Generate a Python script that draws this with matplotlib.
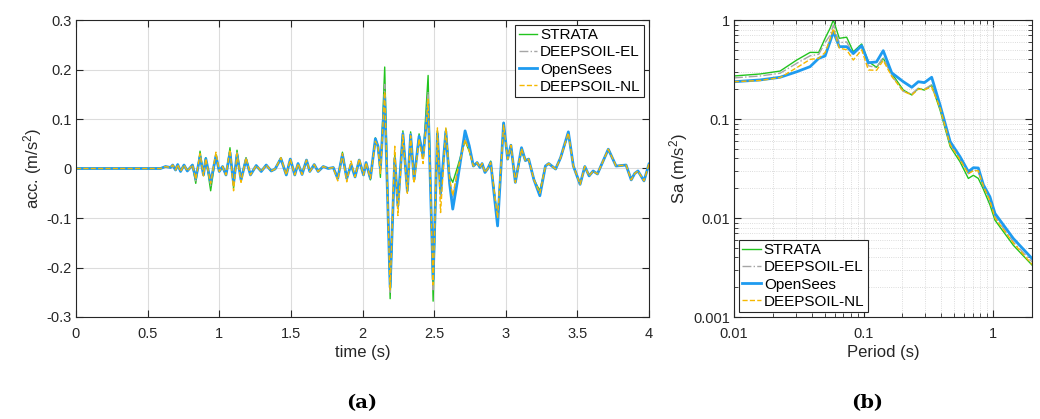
import numpy as np
import matplotlib
matplotlib.use("Agg")
import matplotlib.pyplot as plt
from matplotlib.ticker import FixedLocator, LogLocator, NullFormatter

plt.rcParams['font.family'] = ['Liberation Sans', 'DejaVu Sans']
plt.rcParams['mathtext.default'] = 'regular'

# --- (a) acceleration time histories ---
t = [0.0, 0.59, 0.625, 0.66, 0.675, 0.695, 0.71, 0.73, 0.754, 0.777, 0.813,
     0.836, 0.866, 0.89, 0.906, 0.94, 0.977, 1.0, 1.023, 1.047, 1.075, 1.1,
     1.124, 1.152, 1.187, 1.218, 1.258, 1.293, 1.328, 1.363, 1.39, 1.43,
     1.468, 1.496, 1.527, 1.55, 1.578, 1.609, 1.632, 1.663, 1.69, 1.726,
     1.761, 1.796, 1.827, 1.86, 1.89, 1.92, 1.948, 1.977, 2.007, 2.025,
     2.055, 2.09, 2.108, 2.125, 2.155, 2.193, 2.225, 2.247, 2.282, 2.313,
     2.336, 2.36, 2.395, 2.423, 2.458, 2.493, 2.523, 2.545, 2.582, 2.608,
     2.63, 2.66, 2.716, 2.745, 2.774, 2.8, 2.82, 2.835, 2.855, 2.875, 2.895,
     2.943, 2.985, 3.013, 3.036, 3.067, 3.11, 3.137, 3.16, 3.196, 3.238,
     3.277, 3.3, 3.348, 3.383, 3.437, 3.472, 3.519, 3.552, 3.582, 3.61,
     3.64, 3.716, 3.77, 3.84, 3.876, 3.9, 3.923, 3.965, 4.0]

acc_strata = [0, 0, 0.004, 0.002, 0.007, -0.003, 0.008, -0.006, 0.007, -0.005, 0.007,
              -0.03, 0.035, -0.013, 0.022, -0.045, 0.028, -0.006, 0.004, -0.013, 0.042, -0.04,
              0.037, -0.023, 0.022, -0.013, 0.006, -0.006, 0.007, -0.005, -0.001, 0.022,
              -0.013, 0.019, -0.013, 0.01, -0.012, 0.017, -0.006, 0.008, -0.006, 0.004,
              0.0, 0.002, -0.02, 0.033, -0.02, 0.008, -0.017, 0.017, -0.013, 0.012,
              -0.023, 0.062, 0.045, -0.018, 0.205, -0.263, 0.03, -0.075, 0.076, -0.045,
              0.074, -0.02, 0.07, 0.02, 0.188, -0.268, 0.076, -0.05, 0.08, -0.015,
              -0.028, 0.0, 0.056, 0.035, 0.005, 0.012, 0.002, 0.01, -0.008, 0.0, 0.015,
              -0.103, 0.093, 0.019, 0.047, -0.028, 0.035, 0.016, 0.019, -0.022, -0.045,
              0.005, 0.01, -0.001, 0.022, 0.07, 0.005, -0.032, 0.004, -0.015, -0.005,
              -0.011, 0.039, 0.005, 0.007, -0.023, -0.01, -0.005, -0.025, 0.009]

acc_el = [0, 0, 0.004, 0.002, 0.007, -0.003, 0.008, -0.006, 0.007, -0.005, 0.007,
          -0.025, 0.028, -0.013, 0.02, -0.035, 0.027, -0.006, 0.004, -0.013, 0.036, -0.035,
          0.032, -0.023, 0.021, -0.013, 0.006, -0.006, 0.007, -0.005, -0.001, 0.021,
          -0.013, 0.019, -0.013, 0.01, -0.012, 0.017, -0.006, 0.008, -0.006, 0.004,
          0.0, 0.002, -0.021, 0.03, -0.022, 0.01, -0.017, 0.018, -0.013, 0.012,
          -0.02, 0.06, 0.045, -0.008, 0.17, -0.25, 0.025, -0.08, 0.072, -0.048,
          0.07, -0.025, 0.068, 0.02, 0.155, -0.245, 0.074, -0.06, 0.078, -0.022,
          -0.06, -0.01, 0.06, 0.038, 0.005, 0.012, 0.002, 0.01, -0.008, 0.0, 0.012,
          -0.108, 0.09, 0.019, 0.047, -0.028, 0.04, 0.016, 0.019, -0.022, -0.052,
          0.005, 0.01, -0.001, 0.022, 0.073, 0.005, -0.032, 0.004, -0.015, -0.005,
          -0.011, 0.039, 0.005, 0.007, -0.023, -0.01, -0.005, -0.025, 0.009]

acc_opensees = [0, 0, 0.004, 0.002, 0.007, -0.003, 0.008, -0.006, 0.007, -0.005, 0.007,
                -0.02, 0.024, -0.013, 0.02, -0.027, 0.025, -0.006, 0.004, -0.013, 0.032, -0.03,
                0.028, -0.023, 0.018, -0.013, 0.006, -0.006, 0.007, -0.005, -0.001, 0.02,
                -0.013, 0.019, -0.013, 0.01, -0.012, 0.017, -0.006, 0.008, -0.006, 0.004,
                0.0, 0.002, -0.02, 0.028, -0.02, 0.008, -0.017, 0.017, -0.013, 0.012,
                -0.02, 0.06, 0.045, 0.0, 0.144, -0.24, 0.02, -0.075, 0.07, -0.045,
                0.068, -0.022, 0.065, 0.025, 0.13, -0.224, 0.07, -0.05, 0.075, -0.03,
                -0.082, -0.03, 0.076, 0.046, 0.005, 0.012, 0.002, 0.01, -0.008, 0.0, 0.012,
                -0.116, 0.092, 0.019, 0.047, -0.028, 0.042, 0.016, 0.019, -0.022, -0.055,
                0.005, 0.01, -0.001, 0.022, 0.074, 0.005, -0.032, 0.004, -0.015, -0.005,
                -0.011, 0.039, 0.005, 0.007, -0.023, -0.01, -0.005, -0.025, 0.009]

acc_nl = [0, 0, 0.004, 0.002, 0.007, -0.003, 0.008, -0.006, 0.007, -0.005, 0.007,
          -0.022, 0.03, -0.015, 0.02, -0.03, 0.033, -0.006, 0.004, -0.013, 0.038, -0.045,
          0.03, -0.028, 0.022, -0.013, 0.006, -0.006, 0.007, -0.005, -0.001, 0.022,
          -0.013, 0.019, -0.013, 0.01, -0.012, 0.017, -0.006, 0.008, -0.006, 0.004,
          0.0, 0.002, -0.025, 0.03, -0.027, 0.015, -0.017, 0.02, -0.013, 0.012,
          -0.02, 0.055, 0.045, -0.01, 0.155, -0.245, 0.045, -0.095, 0.068, -0.05,
          0.066, -0.03, 0.06, 0.01, 0.14, -0.235, 0.082, -0.089, 0.082, -0.02,
          -0.055, -0.01, 0.058, 0.036, 0.005, 0.012, 0.002, 0.01, -0.008, 0.0, 0.012,
          -0.1, 0.088, 0.019, 0.047, -0.028, 0.04, 0.016, 0.019, -0.022, -0.05,
          0.005, 0.01, -0.001, 0.022, 0.072, 0.005, -0.032, 0.004, -0.015, -0.005,
          -0.011, 0.039, 0.005, 0.007, -0.023, -0.01, -0.005, -0.025, 0.009]

# --- (b) response spectra ---
period = [0.01, 0.0159, 0.0227, 0.0305, 0.0387, 0.0451, 0.0505, 0.0552, 0.0585,
          0.065, 0.0741, 0.0834, 0.0968, 0.109, 0.126, 0.142, 0.165, 0.203, 0.236,
          0.265, 0.295, 0.336, 0.39, 0.467, 0.556, 0.645, 0.705, 0.77, 0.843, 0.946,
          1.036, 1.436, 2.0]
sa_strata = [0.272, 0.285, 0.305, 0.394, 0.471, 0.47, 0.653, 0.824, 1.0,
             0.653, 0.67, 0.478, 0.572, 0.38, 0.333, 0.41, 0.289, 0.196, 0.175,
             0.204, 0.196, 0.22, 0.123, 0.0526, 0.037, 0.0251, 0.027, 0.0251, 0.0195, 0.0136,
             0.0095, 0.0053, 0.00335]
sa_el = [0.26, 0.272, 0.29, 0.365, 0.435, 0.45, 0.59, 0.70, 0.89,
         0.59, 0.6, 0.45, 0.55, 0.345, 0.33, 0.42, 0.275, 0.19, 0.18,
         0.205, 0.2, 0.222, 0.128, 0.055, 0.039, 0.028, 0.031, 0.029, 0.021, 0.0148,
         0.0103, 0.0057, 0.0036]
sa_opensees = [0.238, 0.248, 0.264, 0.30, 0.338, 0.41, 0.433, 0.604, 0.762,
               0.538, 0.538, 0.459, 0.55, 0.37, 0.377, 0.49, 0.293, 0.238, 0.209,
               0.238, 0.233, 0.264, 0.138, 0.059, 0.0417, 0.0294, 0.0322, 0.032, 0.0216, 0.0164,
               0.0111, 0.0062, 0.0039]
sa_nl = [0.238, 0.245, 0.262, 0.33, 0.40, 0.41, 0.47, 0.64, 0.82,
         0.52, 0.50, 0.394, 0.50, 0.313, 0.31, 0.39, 0.27, 0.19, 0.175,
         0.2, 0.198, 0.21, 0.13, 0.055, 0.039, 0.028, 0.03, 0.03, 0.021, 0.015,
         0.01, 0.0056, 0.0034]

labels = ["STRATA", "DEEPSOIL-EL", "OpenSees", "DEEPSOIL-NL"]
estilos = [
    dict(color="#22c41e", lw=1.0, ls="-"),
    dict(color="#a6a6a6", lw=1.0, ls="-."),
    dict(color="#1e9bf0", lw=2.0, ls="-"),
    dict(color="#f5b800", lw=1.0, ls="--"),
]
cor_eixo = "#262626"

fig = plt.figure(figsize=(10.4, 4.19), dpi=100)
ax1 = fig.add_axes([76/1040, 102/419, 573/1040, 297/419])
ax2 = fig.add_axes([734/1040, 102/419, 298/1040, 297/419])

def estilo_matlab(ax):
    for s in ax.spines.values():
        s.set_color(cor_eixo)
        s.set_linewidth(0.8)
    ax.tick_params(which="both", direction="in", top=True, right=True,
                   colors=cor_eixo, labelsize=10.5)
    ax.tick_params(axis="x", which="both", pad=7)
    ax.tick_params(axis="y", which="both", pad=3)
    ax.tick_params(which="major", length=5)
    ax.tick_params(which="minor", length=3)

def legenda(ax, loc):
    leg = ax.legend(loc=loc, fontsize=11, handlelength=1.2, handletextpad=0.2,
                    labelspacing=0.2, borderpad=0.25, borderaxespad=0.3,
                    fancybox=False, framealpha=1)
    leg.get_frame().set_edgecolor(cor_eixo)
    leg.get_frame().set_linewidth(0.8)

# (a)
for y, lab, est in zip([acc_strata, acc_el, acc_opensees, acc_nl], labels, estilos):
    ax1.plot(t, y, label=lab, **est)
ax1.set_xlim(0, 4)
ax1.set_ylim(-0.3, 0.3)
ax1.set_xticks(np.arange(0, 4.01, 0.5))
ax1.set_xticklabels(["0", "0.5", "1", "1.5", "2", "2.5", "3", "3.5", "4"])
ax1.set_yticks(np.arange(-0.3, 0.31, 0.1))
ax1.set_yticklabels(["-0.3", "-0.2", "-0.1", "0", "0.1", "0.2", "0.3"])
ax1.grid(True, color="#dcdcdc", lw=0.8)
ax1.set_axisbelow(True)
estilo_matlab(ax1)
ax1.set_xlabel("time (s)", fontsize=12, color=cor_eixo, labelpad=3)
ax1.set_ylabel("acc. (m/s$^2$)", fontsize=12, color=cor_eixo, labelpad=2)
legenda(ax1, "upper right")

# (b)
for y, lab, est in zip([sa_strata, sa_el, sa_opensees, sa_nl], labels, estilos):
    ax2.plot(period, y, label=lab, **est)
ax2.set_xscale("log")
ax2.set_yscale("log")
ax2.set_xlim(0.01, 2)
ax2.set_ylim(0.001, 1)
ax2.xaxis.set_major_locator(FixedLocator([0.01, 0.1, 1]))
ax2.set_xticklabels(["0.01", "0.1", "1"])
ax2.xaxis.set_minor_locator(LogLocator(base=10, subs=np.arange(2, 10)))
ax2.xaxis.set_minor_formatter(NullFormatter())
ax2.yaxis.set_major_locator(FixedLocator([0.001, 0.01, 0.1, 1]))
ax2.set_yticklabels(["0.001", "0.01", "0.1", "1"])
ax2.yaxis.set_minor_locator(LogLocator(base=10, subs=np.arange(2, 10)))
ax2.yaxis.set_minor_formatter(NullFormatter())
ax2.grid(True, which="major", color="#dcdcdc", lw=0.8)
ax2.grid(True, which="minor", color="#d0d0d0", lw=0.6, ls=":")
ax2.set_axisbelow(True)
estilo_matlab(ax2)
ax2.set_xlabel("Period (s)", fontsize=12, color=cor_eixo, labelpad=3)
ax2.set_ylabel("Sa (m/s$^2$)", fontsize=12, color=cor_eixo, labelpad=2)
legenda(ax2, "lower left")

fig.text(362/1040, 1 - 403/419, "(a)", ha="center", va="center", fontsize=14,
         family="DejaVu Serif", weight="bold")
fig.text(867/1040, 1 - 403/419, "(b)", ha="center", va="center", fontsize=14,
         family="DejaVu Serif", weight="bold")

fig.savefig("out.png", dpi=100)
